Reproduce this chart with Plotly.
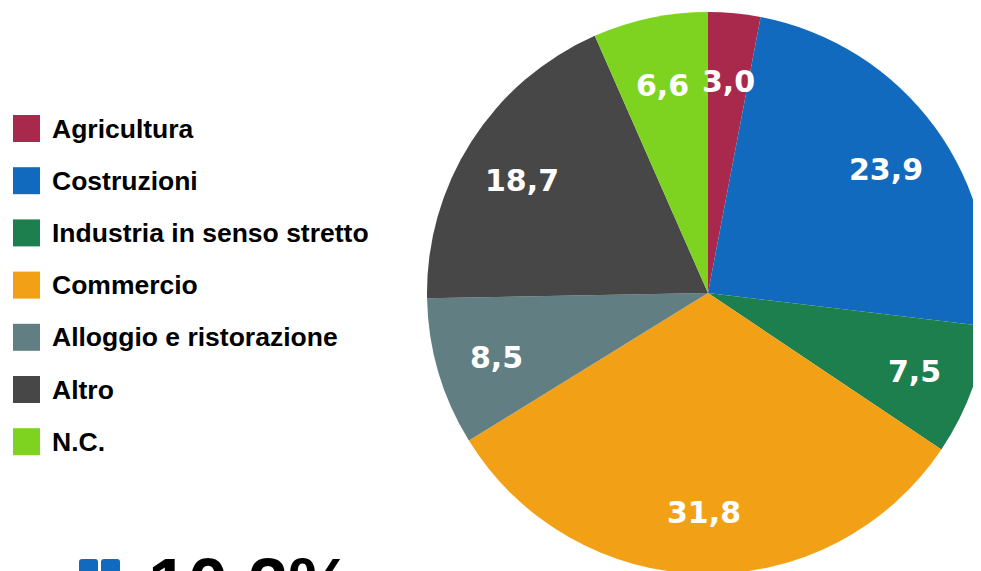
import math
import plotly.graph_objects as go

categories = ["Agricultura", "Costruzioni", "Industria in senso stretto", "Commercio",
              "Alloggio e ristorazione", "Altro", "N.C."]
values = [3.0, 23.9, 7.5, 31.8, 8.5, 18.7, 6.6]
colors = ["#A8294C", "#116ABD", "#1E7F4E", "#F2A116", "#617F82", "#474747", "#7ED320"]
kpi_text = "10,2%"

W, H = 981, 571
OFF = 8  # page body margin shift

def px(x):
    return (x - OFF) / W

def py(y):
    return 1 - (y - OFF) / H

# pie geometry in screen pixels
CX, CY, R = 708, 293, 281

fig = go.Figure()
fig.add_trace(go.Pie(
    labels=categories,
    values=values,
    marker=dict(colors=colors, line=dict(width=0)),
    sort=False,
    direction="clockwise",
    rotation=0,
    textinfo="none",
    hoverinfo="label+value",
    showlegend=False,
    domain=dict(x=[px(CX - R), min(1, px(CX + R))], y=[max(0, py(CY + R)), py(CY - R)]),
))

shapes = []
annotations = []

# slice value labels placed along each slice bisector
total = sum(values)
cum = 0.0
for v in values:
    ang = 2 * math.pi * (cum + v / 2) / total
    cum += v
    lx = CX + 0.785 * R * math.sin(ang)
    ly = CY + 3.5 - 0.768 * R * math.cos(ang)
    annotations.append(dict(text=f"{v:.1f}".replace(".", ","), xref="paper", yref="paper",
                            x=px(lx), y=py(ly), xanchor="center", yanchor="middle",
                            showarrow=False,
                            font=dict(family="DejaVu Sans", size=30, color="white", weight="bold")))

# manual legend
for i, (cat, col) in enumerate(zip(categories, colors)):
    top = 115 + 52.2 * i
    shapes.append(dict(type="rect", xref="paper", yref="paper",
                       x0=px(13), x1=px(40), y0=py(top + 27), y1=py(top),
                       fillcolor=col, line=dict(width=0)))
    annotations.append(dict(text=cat, xref="paper", yref="paper",
                            x=px(50), y=py(top + 13.5), xanchor="left", yanchor="middle",
                            showarrow=False,
                            font=dict(family="Liberation Sans", size=26.5, color="#000000", weight="bold")))

# KPI icon (partially visible at the bottom)
def rounded_rect(x0, y0, x1, y1, r):
    X = lambda v: px(v)
    Y = lambda v: py(v)
    return (f"M {X(x0 + r)} {Y(y0)} L {X(x1 - r)} {Y(y0)} Q {X(x1)} {Y(y0)} {X(x1)} {Y(y0 + r)} "
            f"L {X(x1)} {Y(y1 - r)} Q {X(x1)} {Y(y1)} {X(x1 - r)} {Y(y1)} "
            f"L {X(x0 + r)} {Y(y1)} Q {X(x0)} {Y(y1)} {X(x0)} {Y(y1 - r)} "
            f"L {X(x0)} {Y(y0 + r)} Q {X(x0)} {Y(y0)} {X(x0 + r)} {Y(y0)} Z")

for x0 in (79, 101):
    shapes.append(dict(type="path", xref="paper", yref="paper",
                       path=rounded_rect(x0, 559, x0 + 19, 578, 3),
                       fillcolor="#116ABD", line=dict(width=0)))
annotations.append(dict(text=kpi_text, xref="paper", yref="paper",
                        x=px(146), y=py(542), xanchor="left", yanchor="top",
                        showarrow=False,
                        font=dict(family="Liberation Sans", size=72, color="#000000", weight="bold")))

fig.update_layout(
    width=W, height=H,
    margin=dict(l=0, r=0, t=0, b=0),
    paper_bgcolor="white",
    plot_bgcolor="white",
    shapes=shapes,
    annotations=annotations,
)

fig.write_html("out.html")
